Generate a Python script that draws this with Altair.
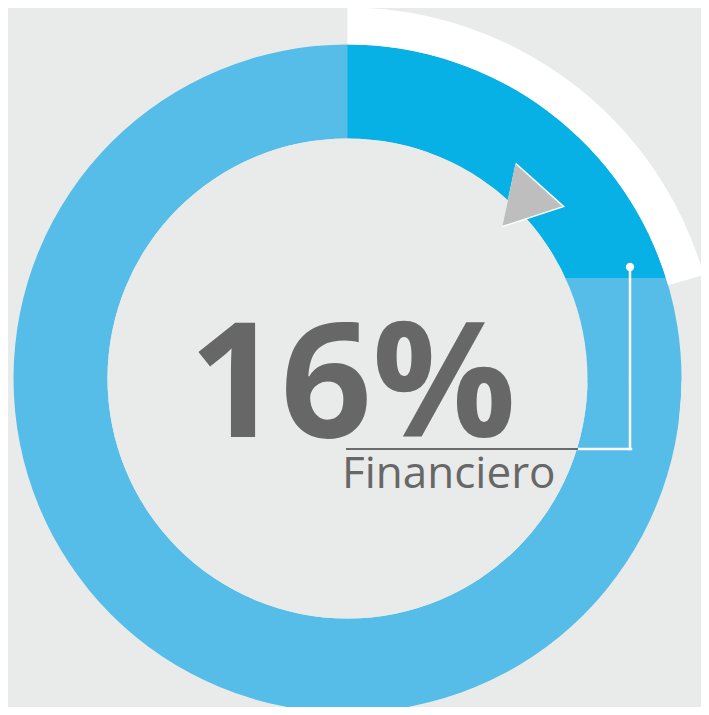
import math
import altair as alt
import pandas as pd

# ---- data -------------------------------------------------------------
categories = ["Financiero", "Otros"]
shares = [16, 84]              # percent
highlight_sweep = [0, 25]      # visible highlighted quadrant (percent of circle)
white_sweep = [0, 20.5]        # outer white accent arc (percent of circle)

# ---- layout / style ---------------------------------------------------
BG = "#e9ebea"
LIGHT = "#55bde7"
DARK = "#07b0e5"
TXT = "#676767"
TRI = "#bebebe"

W, H = 693, 699
CX, CY = 339.5, 370.5            # ring centre in view pixels
R_OUT, R_IN, R_WHITE = 334, 240, 371
CUT = 100.5                      # horizontal cut of highlight (units above centre)

xs = alt.Scale(domain=[-CX, W - CX], range=[0, W], nice=False, zero=False)
ys = alt.Scale(domain=[CY - H, CY], range=[H, 0], nice=False, zero=False)
ts = alt.Scale(domain=[0, 100], range=[0, 2 * math.pi])


def base(df):
    return alt.Chart(df).encode(
        x=alt.X("x:Q", scale=xs, axis=None),
        y=alt.Y("y:Q", scale=ys, axis=None),
    )


def arc(t0, t1, r, r2, color):
    df = pd.DataFrame({"x": [0], "y": [0], "t0": [t0], "t1": [t1]})
    return base(df).mark_arc(radius=r, radius2=r2, color=color, strokeWidth=0).encode(
        theta=alt.Theta("t0:Q", scale=ts), theta2="t1:Q"
    )


ring = arc(0, sum(shares), R_OUT, R_IN, LIGHT)
dark = arc(highlight_sweep[0], highlight_sweep[1], R_OUT, R_IN, DARK)

cut_df = pd.DataFrame({"x": [0], "x2": [355], "y": [-4], "y2": [CUT]})
cut_rect = alt.Chart(cut_df).mark_rect(color=LIGHT, strokeWidth=0).encode(
    x=alt.X("x:Q", scale=xs, axis=None), x2="x2:Q",
    y=alt.Y("y:Q", scale=ys, axis=None), y2="y2:Q",
)
outer_fix = arc(18, 27, 380, R_OUT, BG)
inner_fix = arc(0, 100, R_IN, 0, BG)
white_arc = arc(white_sweep[0], white_sweep[1], R_WHITE, R_OUT, "white")

# arrow triangle
tri_w = base(pd.DataFrame({"x": [189.5], "y": [177.6]})).mark_point(
    shape="triangle-right", filled=True, color="white", opacity=1,
    size=4400, angle=12, strokeWidth=0)
tri = base(pd.DataFrame({"x": [188.1], "y": [177.9]})).mark_point(
    shape="triangle-right", filled=True, color=TRI, opacity=1,
    size=3950, angle=12, strokeWidth=0)

# leader line
lead_df = pd.DataFrame({"x": [282.5, 230.5], "x2": [282.5, 283.5],
                        "y": [111.5, -70.5], "y2": [-70.5, -70.5]})
leader = alt.Chart(lead_df).mark_rule(color="white", strokeWidth=2.5, strokeCap="square").encode(
    x=alt.X("x:Q", scale=xs, axis=None), x2="x2:Q",
    y=alt.Y("y:Q", scale=ys, axis=None), y2="y2:Q",
)
dot = base(pd.DataFrame({"x": [282.5], "y": [111.5]})).mark_circle(
    color="white", opacity=1, size=70)

under_df = pd.DataFrame({"x": [-1.5], "x2": [230.5], "y": [-70.5], "y2": [-70.5]})
underline = alt.Chart(under_df).mark_rule(color="#6b6b6b", strokeWidth=2).encode(
    x=alt.X("x:Q", scale=xs, axis=None), x2="x2:Q",
    y=alt.Y("y:Q", scale=ys, axis=None), y2="y2:Q",
)

pct = base(pd.DataFrame({"x": [5], "y": [-58.5], "t": [f"{shares[0]}%"]})).mark_text(
    font="Open Sans", fontWeight="bold", fontSize=160, color=TXT,
    align="center", baseline="alphabetic").encode(text="t:N")
lab = base(pd.DataFrame({"x": [-5.5], "y": [-109.5], "t": [categories[0]]})).mark_text(
    font="Open Sans", fontSize=44, color=TXT,
    align="left", baseline="alphabetic").encode(text="t:N")

chart = alt.layer(
    ring, dark, cut_rect, outer_fix, inner_fix, white_arc,
    tri_w, tri, leader, dot, underline, pct, lab,
).properties(
    width=W, height=H, padding=0, background=BG,
    autosize=alt.AutoSizeParams(type="none"),
).configure_view(stroke=None)

chart.save("out.html", embed_options={"renderer": "svg", "actions": False})
